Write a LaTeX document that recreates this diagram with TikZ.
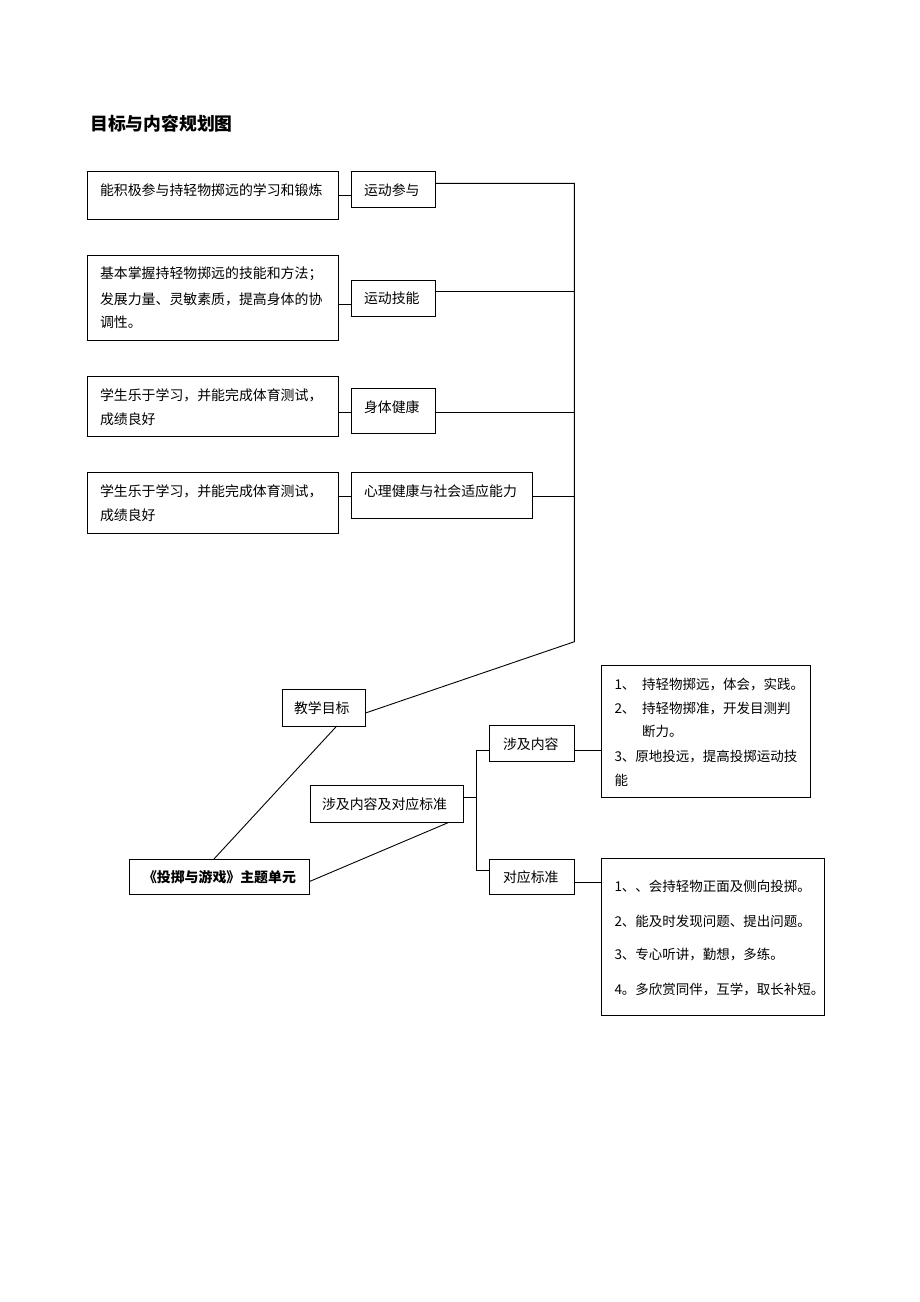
\documentclass[tikz,border=0pt]{standalone}
\usepackage{fontspec}
\setmainfont{Noto Sans CJK SC}
\begin{document}
\begin{tikzpicture}[x=1pt,y=-1pt,
  box/.style={draw,line width=0.9pt,inner sep=0pt,outer sep=0pt},
  txt/.style={inner sep=0pt,outer sep=0pt,anchor=west,font=\fontsize{13.9}{16}\selectfont},
  rtxt/.style={txt,font=\fontsize{13.5}{16}\selectfont},
  ln/.style={line width=0.9pt}]
\useasboundingbox (0,0) rectangle (920,1302);
\fill[white] (0,0) rectangle (920,1302);
\newcommand{\bx}[5]{\node[box,minimum width={#4-#2},minimum height={#5-#3}] (#1) at ({(#2+#4)/2},{(#3+#5)/2}) {};}
% title
\node[inner sep=0pt,anchor=west,font=\fontsize{17.8}{20}\selectfont\bfseries] (title) at (90,124) {目标与内容规划图};
% boxes
\bx{a1}{87.5}{171}{338}{219}
\bx{b1}{351.7}{171}{435}{207}
\bx{a2}{87.5}{255.7}{338}{340}
\bx{b2}{351.7}{280}{435}{316}
\bx{a3}{87.5}{376}{338}{436.7}
\bx{b3}{351.7}{388.3}{435}{433.3}
\bx{a4}{87.5}{472.7}{338}{533.3}
\bx{b4}{351.7}{472.7}{532}{518.3}
\bx{jx}{282}{689}{365.5}{726}
\bx{ns}{310}{785.7}{463}{822.7}
\bx{zt}{129}{859}{309.5}{894}
\bx{sj}{489}{725.7}{574}{761.7}
\bx{db}{489}{859}{574}{894.3}
\bx{rb1}{601.6}{665}{810}{797.7}
\bx{rb2}{601.6}{858.3}{824}{1015}
% texts
\node[txt] (a1l1) at (100,190) {能积极参与持轻物掷远的学习和锻炼};
\node[txt] (b1t) at (364,190) {运动参与};
\node[txt] (a2l1) at (100,274) {基本掌握持轻物掷远的技能和方法；};
\node[txt] (a2l2) at (100,299.3) {发展力量、灵敏素质，提高身体的协};
\node[txt] (a2l3) at (100,322.7) {调性。};
\node[txt] (b2t) at (364,298.7) {运动技能};
\node[txt] (a3l1) at (100,395) {学生乐于学习，并能完成体育测试，};
\node[txt] (a3l2) at (100,419.3) {成绩良好};
\node[txt] (b3t) at (364,406.7) {身体健康};
\node[txt] (a4l1) at (100,491) {学生乐于学习，并能完成体育测试，};
\node[txt] (a4l2) at (100,515) {成绩良好};
\node[txt] (b4t) at (364,491) {心理健康与社会适应能力};
\node[txt] (jxt) at (294,708.3) {教学目标};
\node[txt] (nst) at (322,804.3) {涉及内容及对应标准};
\node[txt,font=\fontsize{13.9}{16}\selectfont\bfseries] (ztt) at (143,876.7) {《投掷与游戏》主题单元};
\node[txt] (sjt) at (503,744.3) {涉及内容};
\node[txt] (dbt) at (503,876.7) {对应标准};
\node[rtxt] (r1l1) at (614.5,684) {\makebox[27.5pt][l]{1、}持轻物掷远，体会，实践。};
\node[rtxt] (r1l2) at (614.5,708.3) {\makebox[27.5pt][l]{2、}持轻物掷准，开发目测判};
\node[rtxt] (r1l3) at (642,731.7) {断力。};
\node[rtxt] (r1l4) at (614.5,756.7) {3、原地投远，提高投掷运动技};
\node[rtxt] (r1l5) at (614.5,780) {能};
\node[rtxt] (r2l1) at (614.5,886.7) {1、、会持轻物正面及侧向投掷。};
\node[rtxt] (r2l2) at (614.5,921) {2、能及时发现问题、提出问题。};
\node[rtxt] (r2l3) at (614.5,955) {3、专心听讲，勤想，多练。};
\node[rtxt] (r2l4) at (614.5,989.3) {4。多欣赏同伴，互学，取长补短。};
% level coordinates
\coordinate (c1) at (0,195.7);
\coordinate (c2) at (0,304);
\coordinate (c3) at (0,412.3);
\coordinate (c4) at (0,496.7);
\coordinate (r1) at (0,183.3);
\coordinate (r2) at (0,291.7);
\coordinate (trunkTop) at (574.4,183.3);
\coordinate (trunkBot) at (574.4,641.7);
\coordinate (jxr) at (0,713);
\coordinate (brx) at (476.4,0);
\coordinate (nsy) at (0,797.7);
\coordinate (sjy) at (0,750);
\coordinate (dby) at (0,870.7);
\coordinate (rb2y) at (0,882.7);
% connectors
\draw[ln] (a1.east |- c1) -- (b1.west |- c1);
\draw[ln] (a2.east |- c2) -- (b2.west |- c2);
\draw[ln] (a3.east |- c3) -- (b3.west |- c3);
\draw[ln] (a4.east |- c4) -- (b4.west |- c4);
\draw[ln] (b1.east |- r1) -- (trunkTop) -- (trunkBot) -- (jx.east |- jxr);
\draw[ln] (b2.east |- r2) -- (trunkTop |- r2);
\draw[ln] (b3.east |- c3) -- (trunkTop |- c3);
\draw[ln] (b4.east |- c4) -- (trunkTop |- c4);
\draw[ln] ([xshift=13pt]jx.south) -- ([xshift=-5.3pt]zt.north);
\draw[ln] ([yshift=-5pt]zt.east) -- ([xshift=61.5pt]ns.south);
\draw[ln] (ns.east |- nsy) -- (brx |- nsy);
\draw[ln] (sj.west |- sjy) -- (brx |- sjy) -- (brx |- dby) -- (db.west |- dby);
\draw[ln] (sj.east |- sjy) -- (rb1.west |- sjy);
\draw[ln] (db.east |- rb2y) -- (rb2.west |- rb2y);
\end{tikzpicture}
\end{document}
